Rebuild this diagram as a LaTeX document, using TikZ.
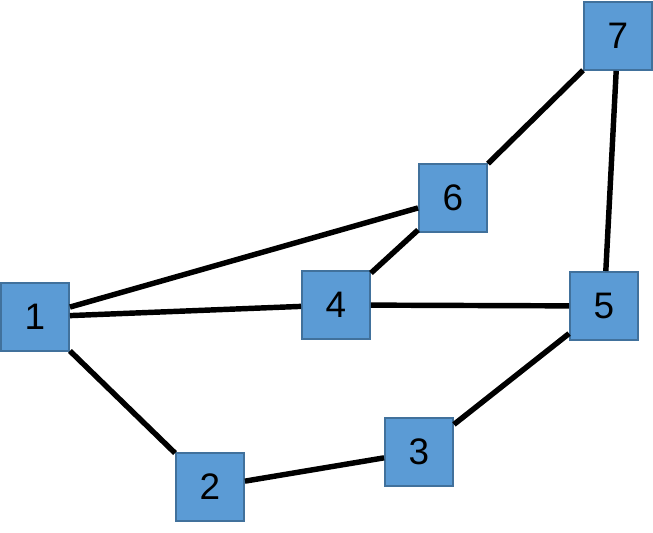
\documentclass[tikz,border=0pt]{standalone}
\usepackage{fontspec}
\setmainfont{Liberation Sans}
\usepackage{tikz}
\usetikzlibrary{positioning}
\definecolor{boxblue}{HTML}{5B9BD5}
\definecolor{boxedge}{HTML}{41719C}

\begin{document}
\begin{tikzpicture}[x=0.02cm, y=-0.02cm, line width=3.1pt,
    vertex/.style={rectangle, draw=boxedge, line width=1.1pt, fill=boxblue,
      minimum size=1.36cm, inner sep=0pt, font=\fontsize{21}{21}\selectfont}]
    \useasboundingbox (0,0) rectangle (653,533);
    % vertices
    \node[vertex] (v1) at (35,317) {1};
    \node[vertex] (v2) at (210,487) {2};
    \node[vertex] (v3) at (419,452) {3};
    \node[vertex] (v4) at (336,305) {4};
    \node[vertex] (v5) at (604,306) {5};
    \node[vertex] (v6) at (453,198) {6};
    \node[vertex] (v7) at (618,36) {7};
    % edges
    \begin{scope}[on background layer/.try]
    \path[draw]
     (v1) edge (v6)
     (v1) edge (v4)
     (v1) edge (v2)
     (v2) edge (v3)
     (v3) edge (v5)
     (v4) edge (v6)
     (v4) edge (v5)
     (v6) edge (v7)
     (v7) edge (v5);
    \end{scope}
  \end{tikzpicture}
\end{document}
